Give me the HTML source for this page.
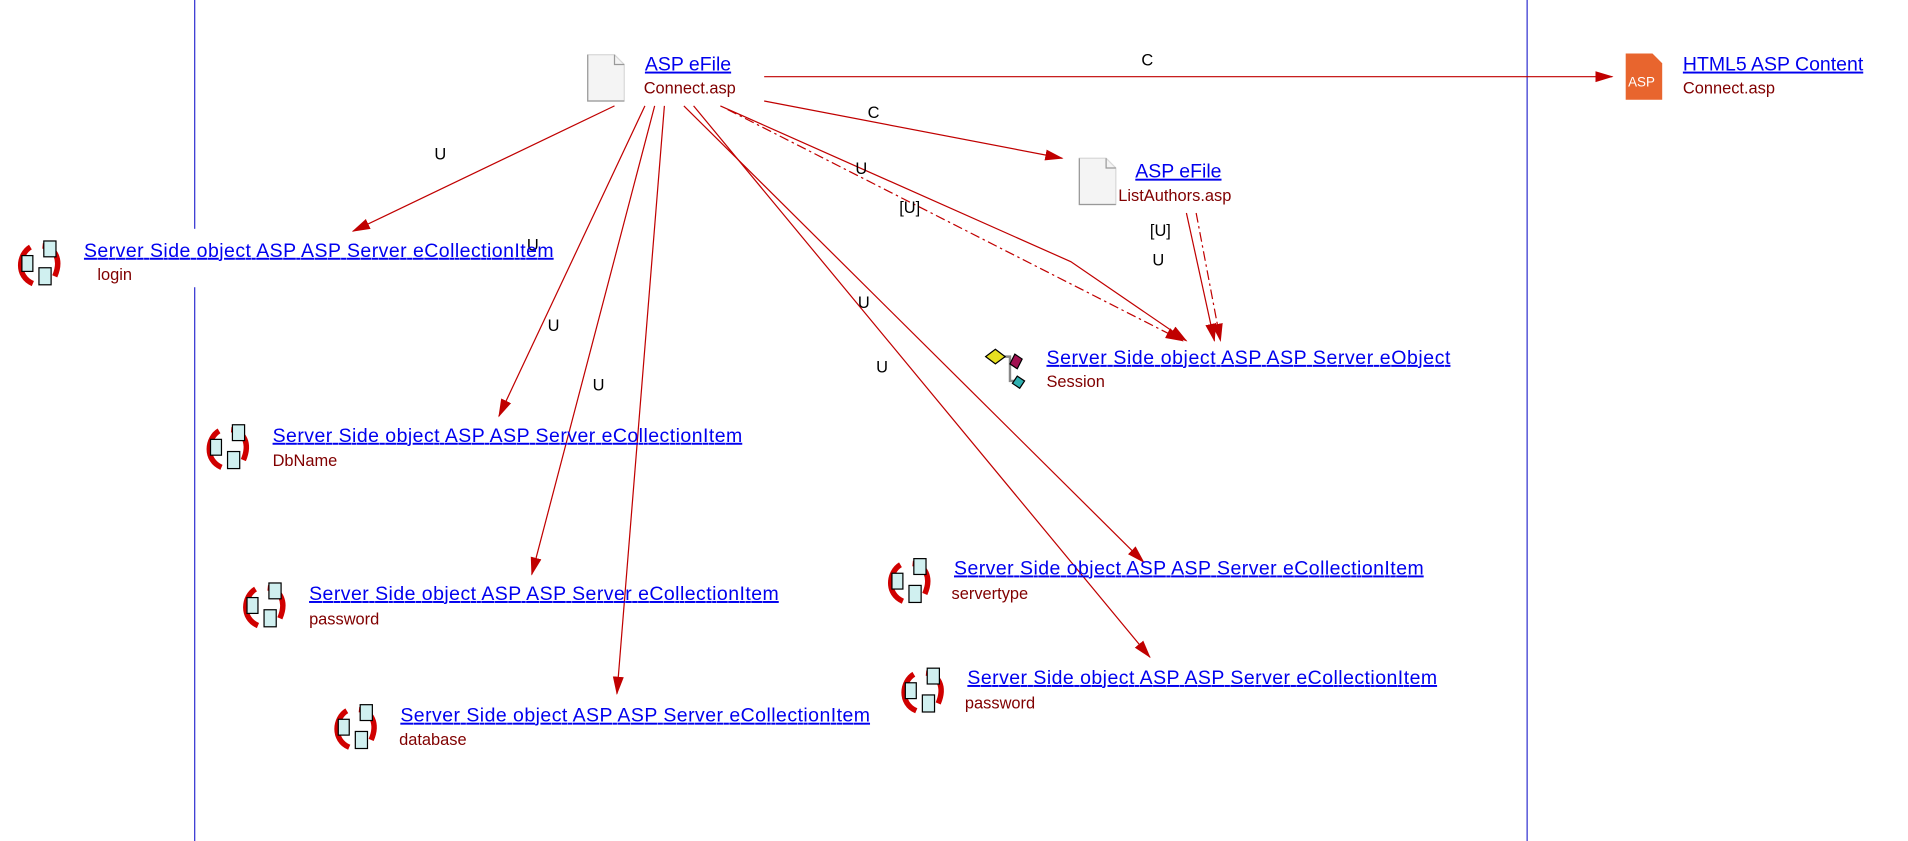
<!DOCTYPE html>
<html><head><meta charset="utf-8"><style>
html,body{margin:0;padding:0;background:#fff;width:1908px;height:841px;overflow:hidden}
svg{display:block}
.l{font-family:"Liberation Sans",Arial,sans-serif;font-size:16px;fill:#0000ee;text-decoration:underline}
.s{font-family:"Liberation Sans",Arial,sans-serif;font-size:13.5px;fill:#800000}
.e{font-family:"Liberation Sans",Arial,sans-serif;font-size:13.5px;fill:#000}
.r{stroke:#c00000;stroke-width:1;fill:none}
.d{stroke:#c00000;stroke-width:1;fill:none;stroke-dasharray:8,3,2,3}
</style></head><body>
<svg width="1908" height="841" viewBox="0 0 1568 691" preserveAspectRatio="none">
<defs>
<marker id="a" markerWidth="15" markerHeight="10" refX="14" refY="5" orient="auto" markerUnits="userSpaceOnUse">
<path d="M0,0.5 L15,5 L0,9.5 Z" fill="#c00000"/></marker>
<g id="doc"><path d="M0,0 H22 L30,8 V38 H0 Z" fill="#f4f4f4" stroke="#d8d8d8"/><path d="M0,0 V38 H30" fill="none" stroke="#999"/><path d="M22,0 V8 H30" fill="none" stroke="#999"/></g>
<g id="ci"><path d="M10,6 C0,12 -2,30 12,36 M20,5 C30,6 36,16 30,30" stroke="#d00000" stroke-width="4.5" fill="none"/>
<rect x="21" y="1" width="10" height="13" fill="#d0f0f0" stroke="#000"/><rect x="3" y="13" width="9" height="13" fill="#d0f0f0" stroke="#000"/><rect x="17" y="23" width="10" height="14" fill="#d0f0f0" stroke="#000"/></g>
</defs>
<line x1="160" y1="0" x2="160" y2="691" stroke="#3030d0"/>
<line x1="1255" y1="0" x2="1255" y2="691" stroke="#3030d0"/>
<rect x="12" y="188" width="450" height="48" fill="#fff"/>
<path class="r" d="M628,63 L1325,63" marker-end="url(#a)"/>
<path class="r" d="M628,83 L873,130" marker-end="url(#a)"/>
<path class="r" d="M505,87 L290,190" marker-end="url(#a)"/>
<path class="r" d="M530,87 L410,342" marker-end="url(#a)"/>
<path class="r" d="M538,87 L437,472" marker-end="url(#a)"/>
<path class="r" d="M546,87 L507,570" marker-end="url(#a)"/>
<path class="r" d="M562,87 L940,462" marker-end="url(#a)"/>
<path class="r" d="M570,87 L945,540" marker-end="url(#a)"/>
<path class="r" d="M592,87 L880,215 L975,280" marker-end="url(#a)"/>
<path class="d" d="M598,90 L972,280" marker-end="url(#a)"/>
<path class="r" d="M975,175 L998,280" marker-end="url(#a)"/>
<path class="d" d="M983,175 L1003,280" marker-end="url(#a)"/>
<text class="e" x="938" y="54">C</text>
<text class="e" x="713" y="97">C</text>
<text class="e" x="357" y="131">U</text>
<text class="e" x="450" y="272">U</text>
<text class="e" x="487" y="321">U</text>
<text class="e" x="433" y="206">U</text>
<text class="e" x="705" y="253">U</text>
<text class="e" x="720" y="306">U</text>
<text class="e" x="703" y="143">U</text>
<text class="e" x="739" y="175">[U]</text>
<text class="e" x="945" y="194">[U]</text>
<text class="e" x="947" y="218">U</text>
<use href="#doc" x="483" y="45"/>
<text class="l" x="530" y="58"> ASP eFile</text><text class="s" x="529" y="77">Connect.asp</text>
<path d="M1336,44 H1358 L1366,52 V82 H1336 Z" fill="#e8652e"/><text x="1338" y="71" font-family="Liberation Sans,sans-serif" font-size="11" fill="#fff">ASP</text>
<text class="l" x="1383" y="58">HTML5 ASP Content</text><text class="s" x="1383" y="77">Connect.asp</text>
<use href="#doc" x="887" y="130"/>
<text class="l" x="933" y="146"> ASP eFile</text><text class="s" x="919" y="165">ListAuthors.asp</text>
<use href="#ci" x="15" y="197"/>
<text class="l" x="69" y="211" textLength="386"> Server Side object ASP ASP Server eCollectionItem</text><text class="s" x="80" y="230">login</text>
<use href="#ci" x="170" y="348"/>
<text class="l" x="224" y="363" textLength="386"> Server Side object ASP ASP Server eCollectionItem</text><text class="s" x="224" y="383">DbName</text>
<use href="#ci" x="200" y="478"/>
<text class="l" x="254" y="493" textLength="386"> Server Side object ASP ASP Server eCollectionItem</text><text class="s" x="254" y="513">password</text>
<use href="#ci" x="275" y="578"/>
<text class="l" x="329" y="593" textLength="386"> Server Side object ASP ASP Server eCollectionItem</text><text class="s" x="328" y="612">database</text>
<g transform="translate(808,285)"><path d="M12,8 H22 V28 H30" stroke="#888" stroke-width="2" fill="none"/><path d="M2,8 L10,2 L18,8 L10,14 Z" fill="#e8e020" stroke="#000"/><path d="M26,6 L32,10 L28,18 L22,14 Z" fill="#a01050" stroke="#000"/><path d="M28,24 L34,28 L30,34 L24,30 Z" fill="#30b0b0" stroke="#000"/></g>
<text class="l" x="860" y="299" textLength="332"> Server Side object ASP ASP Server eObject</text><text class="s" x="860" y="318">Session</text>
<use href="#ci" x="730" y="458"/>
<text class="l" x="784" y="472" textLength="386"> Server Side object ASP ASP Server eCollectionItem</text><text class="s" x="782" y="492">servertype</text>
<use href="#ci" x="741" y="548"/>
<text class="l" x="795" y="562" textLength="386"> Server Side object ASP ASP Server eCollectionItem</text><text class="s" x="793" y="582">password</text>
</svg>
</body></html>
